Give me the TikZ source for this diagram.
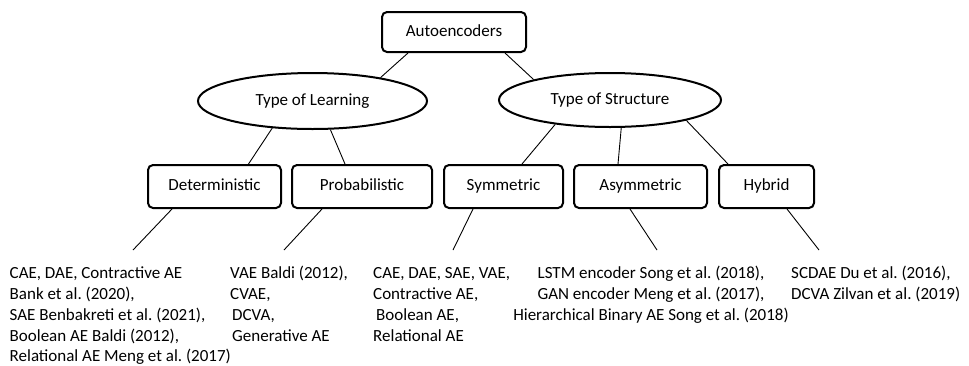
\documentclass[tikz,border=0pt]{standalone}
\usepackage{fontspec}
\setmainfont{Carlito}
\usetikzlibrary{shapes.geometric}
\frenchspacing
\begin{document}
\begin{tikzpicture}[x=1pt,y=-1pt,
  font=\fontsize{17}{20.8}\selectfont\frenchspacing,
  box/.style={draw, line width=2pt, rounded corners=5pt, inner sep=0, minimum height=43pt, text height=12pt, text depth=4pt},
  oval/.style={ellipse, draw, line width=2pt, inner sep=0, text height=12pt, text depth=4pt},
  link/.style={line width=0.9pt},
  ref/.style={inner sep=0, align=left, anchor=north west}]
\useasboundingbox (0,0) rectangle (969,365);

\node[box, minimum width=144pt, minimum height=40pt] (ae) at (454,32) {Autoencoders};
\node[oval, minimum width=229pt, minimum height=56pt] (tl) at (312.5,101) {Type of Learning};
\node[oval, minimum width=222pt, minimum height=54pt] (ts) at (610,100) {Type of Structure};
\node[box, minimum width=133pt] (det) at (214.5,186.5) {Deterministic};
\node[box, minimum width=140pt] (prob) at (362,186.5) {Probabilistic};
\node[box, minimum width=119pt] (sym) at (503.5,186.5) {Symmetric};
\node[box, minimum width=133pt] (asym) at (640.5,186.5) {Asymmetric};
\node[box, minimum width=95pt] (hyb) at (766.5,186.5) {Hybrid};

\draw[link] ([xshift=-46pt]ae.south) -- (tl.19);
\draw[link] ([xshift=51pt]ae.south) -- (ts.165);
\draw[link] (tl.214) -- ([xshift=34pt]det.north);
\draw[link] (tl.302) -- ([xshift=-17pt]prob.north);
\draw[link] (ts.204) -- ([xshift=18.5pt]sym.north);
\draw[link] (ts.292) -- ([xshift=-22.5pt]asym.north);
\draw[link] (ts.345) -- ([xshift=-38.5pt]hyb.north);

\coordinate (e1) at (133,250);
\coordinate (e2) at (284,250);
\coordinate (e3) at (453,250);
\coordinate (e4) at (657,250);
\coordinate (e5) at (819,250);
\draw[link] ([xshift=-42.5pt]det.south) -- (e1);
\draw[link] ([xshift=-40pt]prob.south) -- (e2);
\draw[link] ([xshift=-30.5pt]sym.south) -- (e3);
\draw[link] ([xshift=-10.5pt]asym.south) -- (e4);
\draw[link] ([xshift=20.5pt]hyb.south) -- (e5);

\node[ref] (t1) at (9.5,264) {\strut CAE, DAE, Contractive AE\\Bank et al. (2020),\\SAE Benbakreti et al. (2021),\\Boolean AE Baldi (2012),\\Relational AE Meng et al. (2017)};
\node[ref] (t2) at (230,264) {\strut VAE Baldi (2012),\\CVAE,\\\hspace*{2pt}DCVA,\\\hspace*{2pt}Generative AE};
\node[ref] (t3) at (373,264) {\strut CAE, DAE, SAE, VAE,\\Contractive AE,\\\hspace*{3pt}Boolean AE,\\Relational AE};
\node[ref, align=center, anchor=north] (t4) at (651,264) {\strut LSTM encoder Song et al. (2018),\\GAN encoder Meng et al. (2017),\\Hierarchical Binary AE Song et al. (2018)};
\node[ref] (t5) at (791,264) {\strut SCDAE Du et al. (2016),\\DCVA Zilvan et al. (2019)};
\end{tikzpicture}
\end{document}
